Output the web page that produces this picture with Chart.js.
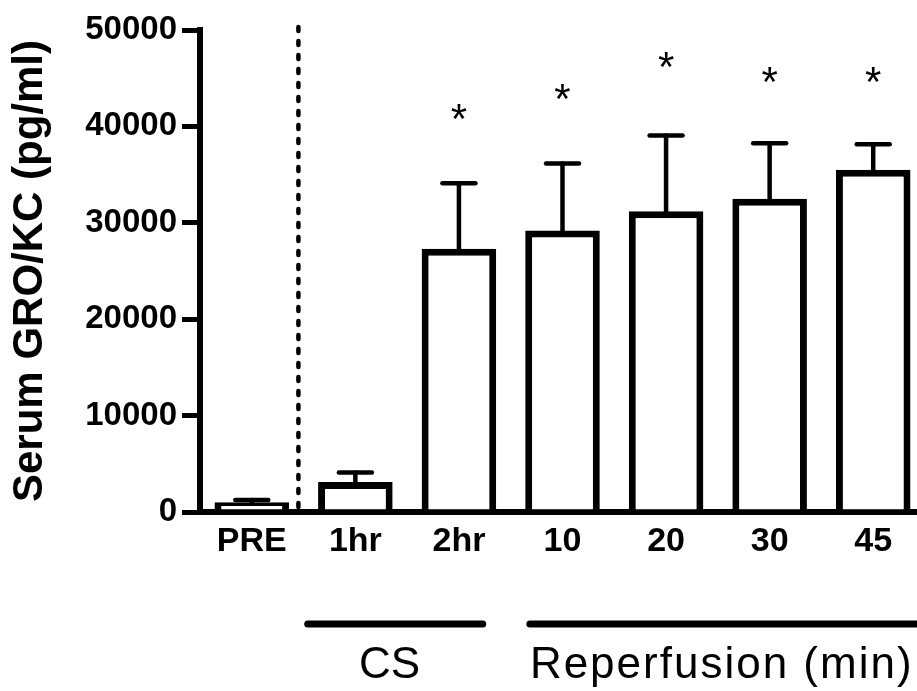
<!DOCTYPE html>
<html><head><meta charset="utf-8">
<script src="https://cdn.jsdelivr.net/npm/chart.js@4.4.1/dist/chart.umd.min.js"></script>
<style>
html,body{margin:0;padding:0;overflow:hidden;background:#fff}
#wrap{width:930px;height:691px;position:relative}
</style>
</head><body>
<div id="wrap"><canvas id="c"></canvas></div>
<script>
const categories = ['PRE', '1hr', '2hr', '10', '20', '30', '45'];
const meanValues = [1000, 3100, 27300, 29200, 31200, 32500, 35500];
const semValues = [250, 1000, 6800, 6950, 7850, 5750, 2650];
const starLabels = ['', '', '*', '*', '*', '*', '*'];
const starValues = [null, null, 41500, 43600, 46900, 45300, 45300];
const yTicks = [0, 10000, 20000, 30000, 40000, 50000];
const groupLabels = ['CS', 'Reperfusion (min)'];
const yTitle = 'Serum GRO/KC (pg/ml)';

const FONT = '"Liberation Sans", Arial, Helvetica, sans-serif';

const annotations = {
  id: 'annotations',
  afterDatasetsDraw(chart) {
    const ctx = chart.ctx;
    const x = chart.scales.x, y = chart.scales.y;
    const meta = chart.getDatasetMeta(0);
    ctx.save();
    // error bars
    ctx.strokeStyle = '#000';
    ctx.lineCap = 'round';
    meta.data.forEach((bar, i) => {
      const top = y.getPixelForValue(meanValues[i] + semValues[i]);
      const base = y.getPixelForValue(meanValues[i]);
      ctx.lineWidth = 4.5;
      ctx.beginPath();
      ctx.moveTo(bar.x, base);
      ctx.lineTo(bar.x, top);
      ctx.stroke();
      ctx.beginPath();
      ctx.moveTo(bar.x - 16.5, top);
      ctx.lineTo(bar.x + 16.5, top);
      ctx.stroke();
    });
    // stars
    ctx.fillStyle = '#000';
    ctx.font = '42px ' + FONT;
    ctx.textAlign = 'center';
    ctx.textBaseline = 'alphabetic';
    meta.data.forEach((bar, i) => {
      if (!starLabels[i]) return;
      const m = ctx.measureText(starLabels[i]);
      const target = y.getPixelForValue(starValues[i]);
      const yy = target - (m.actualBoundingBoxDescent - m.actualBoundingBoxAscent) / 2;
      ctx.fillText(starLabels[i], bar.x, yy);
    });
    // dotted divider between PRE and 1hr
    const dx = x.getPixelForValue(0.45);
    ctx.lineWidth = 4.5;
    ctx.setLineDash([4, 10]);
    ctx.beginPath();
    ctx.moveTo(dx, y.getPixelForValue(50300));
    ctx.lineTo(dx, y.getPixelForValue(0));
    ctx.stroke();
    ctx.setLineDash([]);
    // group brackets
    const b = chart.chartArea.bottom;
    ctx.lineWidth = 7;
    ctx.beginPath();
    ctx.moveTo(x.getPixelForValue(0.54), b + 112);
    ctx.lineTo(x.getPixelForValue(2.23), b + 112);
    ctx.stroke();
    ctx.beginPath();
    ctx.moveTo(x.getPixelForValue(2.685), b + 112);
    ctx.lineTo(x.getPixelForValue(7.2), b + 112);
    ctx.stroke();
    ctx.font = '44px ' + FONT;
    ctx.textAlign = 'center';
    ctx.fillText(groupLabels[0], x.getPixelForValue(1.33), b + 166);
    ctx.textAlign = 'left';
    ctx.letterSpacing = '2px';
    ctx.fillText(groupLabels[1], x.getPixelForValue(2.685), b + 166);
    ctx.letterSpacing = '0px';
    ctx.restore();
  }
};

new Chart(document.getElementById('c'), {
  type: 'bar',
  data: {
    labels: categories,
    datasets: [{
      data: meanValues,
      backgroundColor: '#ffffff',
      borderColor: '#000000',
      borderWidth: 7,
      borderSkipped: 'start',
      barPercentage: 0.72,
      categoryPercentage: 1
    }]
  },
  options: {
    responsive: true,
    maintainAspectRatio: false,
    animation: false,
    events: [],
    layout: { padding: { top: 30, right: 5, left: 0, bottom: 0 } },
    plugins: { legend: { display: false }, tooltip: { enabled: false }, title: { display: false } },
    scales: {
      x: {
        z: 1,
        offset: true,
        grid: { display: false, drawTicks: false },
        border: { display: true, color: '#000', width: 6 },
        ticks: {
          color: '#000', padding: 9, maxRotation: 0, autoSkip: false,
          font: { family: FONT, size: 34, weight: 'bold' }
        },
        afterFit(scale) { scale.height = 179; }
      },
      y: {
        min: 0, max: 50000,
        afterBuildTicks(scale) { scale.ticks = yTicks.map(v => ({ value: v })); },
        grid: { drawOnChartArea: false, drawTicks: true, tickLength: 18, lineWidth: 5, tickWidth: 5, color: '#000', tickColor: '#000' },
        border: { display: true, color: '#000', width: 6 },
        ticks: {
          color: '#000', padding: 5,
          callback: (v) => String(v),
          font: { family: FONT, size: 33, weight: 'bold' }
        },
        title: {
          display: true, text: yTitle, color: '#000',
          font: { family: FONT, size: 42, weight: 'bold', lineHeight: 1 },
          padding: { top: 9, bottom: 0 }
        },
        afterFit(scale) { scale.width = 200; }
      }
    }
  },
  plugins: [annotations]
});
</script>
</body></html>
